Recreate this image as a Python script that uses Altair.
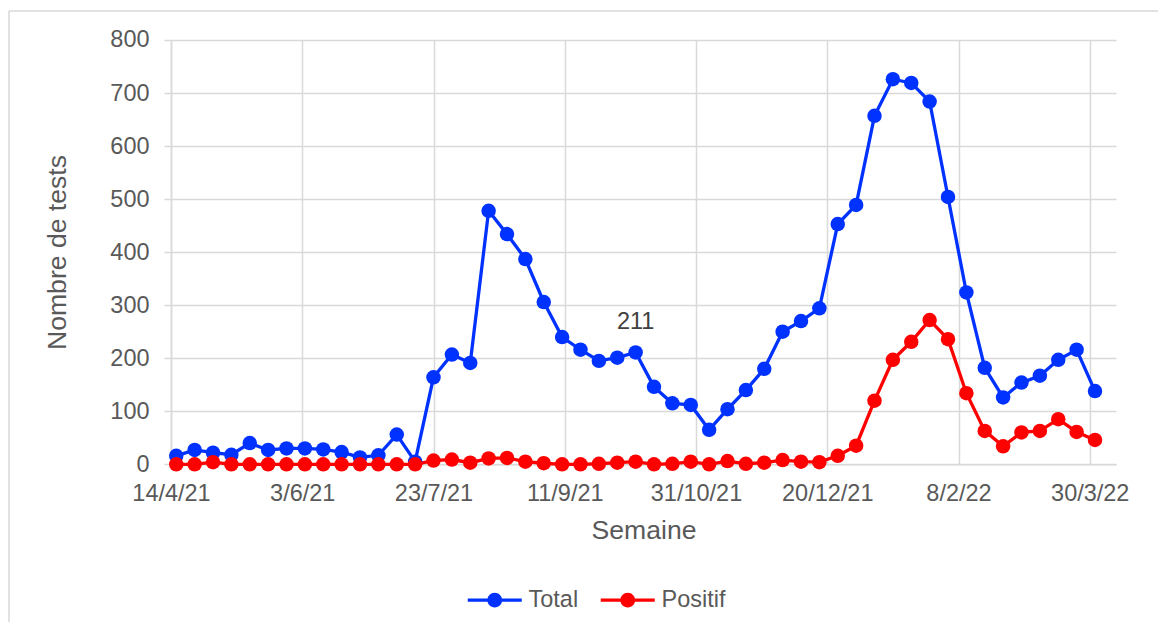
import altair as alt
import pandas as pd

# --- data ---
first_week = "2021-04-16"
n_weeks = 51
total = [16, 27, 22, 18, 40, 27, 30, 30, 28, 23, 13, 17, 56, 5,
         164, 207, 191, 478, 434, 387, 306, 240, 216, 195, 201, 211,
         146, 115, 112, 65, 104, 140,
         180, 250, 270, 294, 453, 489, 657, 726, 719, 684, 504, 324,
         182, 126, 154, 167, 197, 216, 138]
positif = [0, 0, 4, 0, 0, 0, 0, 0, 0, 0, 0, 0, 0, 0,
           7, 9, 3, 11, 12, 5, 2, 0, 0, 1, 3, 5,
           0, 1, 5, 0, 6, 1,
           3, 8, 5, 4, 16, 35, 120, 197, 231, 272, 236, 134,
           63, 34, 60, 63, 85, 61, 46]
series = ["Total", "Positif"]
colors = ["#0032FF", "#FF0000"]
tick_dates = ["2021-04-14", "2021-06-03", "2021-07-23", "2021-09-11",
              "2021-10-31", "2021-12-20", "2022-02-08", "2022-03-30"]
x_domain = ["2021-04-14", "2022-04-09"]
y_ticks = [0, 100, 200, 300, 400, 500, 600, 700, 800]
label_index = 25

dates = [d.strftime("%Y-%m-%d") for d in pd.date_range(first_week, periods=n_weeks, freq="7D")]

df = pd.DataFrame({
    "date": dates + dates,
    "value": total + positif,
    "serie": ["Total"] * n_weeks + ["Positif"] * n_weeks,
})
ann = pd.DataFrame({"date": [dates[label_index]], "value": [total[label_index]],
                    "text": [str(total[label_index])]})

def dt(s):
    y, m, d = s.split("-")
    return alt.DateTime(year=int(y), month=int(m), date=int(d), utc=True)

FONT = "Liberation Sans"
GRID = "#D9D9D9"
TXT = "#595959"
LBL = 23.5
TTL = 26.6

x_enc = alt.X("date:T",
              scale=alt.Scale(type="utc", domain=[dt(s) for s in x_domain]),
              axis=alt.Axis(values=[dt(s) for s in tick_dates],
                            labelExpr="utcFormat(datum.value, '%-d/%-m/%y')",
                            title="Semaine", grid=True, gridColor=GRID,
                            gridWidth=1.5, ticks=False, tickSize=0, domainColor=GRID,
                            domainWidth=1.5, labelFont=FONT, labelFontSize=LBL,
                            labelColor=TXT, labelPadding=36.7, labelBaseline="alphabetic",
                            labelFlush=False, labelOverlap=False,
                            titleFont=FONT, titleFontSize=TTL, titleColor=TXT,
                            titleFontWeight="normal", titleY=74.7,
                            titleBaseline="alphabetic"))
y_enc = alt.Y("value:Q",
              scale=alt.Scale(domain=[0, 800], nice=False),
              axis=alt.Axis(values=y_ticks, title="Nombre de tests", grid=True,
                            gridColor=GRID, gridWidth=1.5, tickColor=GRID, tickSize=7,
                            tickWidth=1.5, domainColor=GRID, domainWidth=1.5,
                            labelFont=FONT, labelFontSize=LBL, labelColor=TXT,
                            labelPadding=15, titleFont=FONT, titleFontSize=TTL,
                            titleColor=TXT, titleFontWeight="normal", titleAngle=270,
                            titleX=-105.4, titleY=212, titleBaseline="alphabetic",
                            titleAlign="center"))

color_scale = alt.Scale(domain=series, range=colors)
legend_symbol = ("M-2.7,-0.16L-0.7,-0.16L-0.7,0.16L-2.7,0.16Z"
                 "M0.7,-0.16L2.7,-0.16L2.7,0.16L0.7,0.16Z"
                 "M0.74,0A0.74,0.74 0 1,1 -0.74,0A0.74,0.74 0 1,1 0.74,0Z")
legend = alt.Legend(title=None, orient="none", direction="horizontal",
                    legendX=312, legendY=548,
                    symbolType=legend_symbol, symbolSize=400,
                    symbolStrokeWidth=0, labelOffset=22,
                    columnPadding=21, labelFont=FONT,
                    labelFontSize=LBL, labelColor=TXT)

lines = alt.Chart(df).mark_line(strokeWidth=3.3).encode(
    x=x_enc, y=y_enc,
    color=alt.Color("serie:N", scale=color_scale, legend=legend),
)
points = alt.Chart(df).mark_point(filled=True, size=210, opacity=1).encode(
    x=x_enc, y=y_enc,
    color=alt.Color("serie:N", scale=color_scale, legend=legend),
)
label = alt.Chart(ann).mark_text(font=FONT, fontSize=LBL, color="#404040",
                                 baseline="alphabetic", dy=-23).encode(
    x=alt.X("date:T"), y=alt.Y("value:Q"), text="text:N")

frame = pd.DataFrame({"k": [0]})
top_border = alt.Chart(frame).mark_rule(color=GRID, strokeWidth=1.5).encode(
    x=alt.value(-162), x2=alt.value(987), y=alt.value(-29))
left_border = alt.Chart(frame).mark_rule(color=GRID, strokeWidth=1.5).encode(
    x=alt.value(-162), y=alt.value(-29), y2=alt.value(582))

chart = alt.layer(top_border, left_border, lines, points, label).properties(
    width=945, height=424.3,
    autosize=alt.AutoSizeParams(type="none"),
    padding={"left": 163, "top": 32, "right": 42, "bottom": 158},
    background="white",
).configure_view(strokeWidth=0)

chart.save("out.html", embed_options={"renderer": "svg", "actions": False})
